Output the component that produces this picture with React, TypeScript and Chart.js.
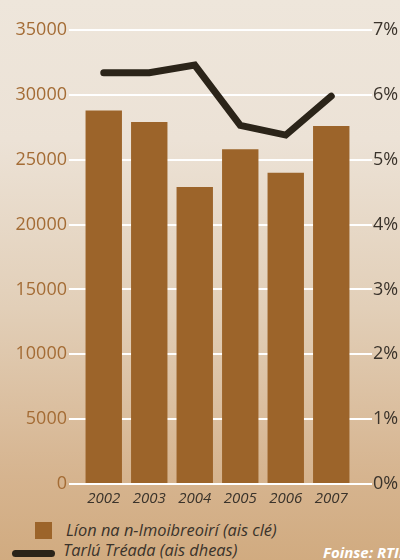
import React, { useEffect, useRef } from "react";
import { Chart, registerables } from "chart.js";

Chart.register(...registerables);

const years = ["2002", "2003", "2004", "2005", "2006", "2007"];
const workers = [28800, 27900, 22900, 25800, 24000, 27600];
const herdIncidence = [6.34, 6.34, 6.46, 5.53, 5.38, 5.98];
const leftTicks = [0, 5000, 10000, 15000, 20000, 25000, 30000, 35000];
const rightTicks = [0, 1, 2, 3, 4, 5, 6, 7];
const barLabel = "Líon na n-Imoibreoirí (ais clé)";
const lineLabel = "Tarlú Tréada (ais dheas)";
const sourceLabel = "Foinse: RTIB";

const BAR = "#9c642a";
const LINE = "#2b2419";
const LEFT_TXT = "#a46c35";
const DARK_TXT = "#3a332b";
const FONT = "'Open Sans', 'Noto Sans', sans-serif";

export default function App() {
  const ref = useRef<HTMLCanvasElement | null>(null);

  useEffect(() => {
    if (!ref.current) return;
    const chart = new Chart(ref.current, {
      data: {
        labels: years,
        datasets: [
          {
            type: "line",
            label: lineLabel,
            data: herdIncidence,
            yAxisID: "yR",
            borderColor: LINE,
            borderWidth: 7,
            borderCapStyle: "round",
            borderJoinStyle: "miter",
            pointRadius: 0,
            tension: 0,
            order: 0,
          },
          {
            type: "bar",
            label: barLabel,
            data: workers,
            yAxisID: "yL",
            backgroundColor: BAR,
            borderWidth: 0,
            categoryPercentage: 1,
            barPercentage: 0.8,
            order: 1,
          },
        ],
      },
      options: {
        responsive: false,
        maintainAspectRatio: false,
        animation: false,
        layout: { padding: { top: 30, left: 0, right: 0, bottom: 0 } },
        plugins: { legend: { display: false }, tooltip: { enabled: false } },
        scales: {
          x: {
            grid: { display: false, drawTicks: false },
            border: { display: false },
            ticks: {
              color: DARK_TXT,
              padding: 6,
              font: { family: FONT, size: 15, style: "italic" },
              maxRotation: 0,
            },
            afterFit: (s: any) => {
              s.height = 26;
            },
          },
          yL: {
            type: "linear",
            position: "left",
            min: 0,
            max: 35000,
            afterBuildTicks: (s: any) => {
              s.ticks = leftTicks.map((v) => ({ value: v }));
            },
            grid: { color: "#ffffff", lineWidth: 2, tickLength: 12, drawTicks: true },
            border: { display: false },
            ticks: {
              color: LEFT_TXT,
              padding: 2,
              font: { family: FONT, size: 18 },
              callback: (v: any) => String(v),
            },
            afterFit: (s: any) => {
              s.width = 81;
            },
          },
          yR: {
            type: "linear",
            position: "right",
            min: 0,
            max: 7,
            afterBuildTicks: (s: any) => {
              s.ticks = rightTicks.map((v) => ({ value: v }));
            },
            grid: {
              color: "#ffffff",
              lineWidth: 2,
              tickLength: 18,
              drawTicks: true,
              drawOnChartArea: false,
            },
            border: { display: false },
            ticks: {
              color: DARK_TXT,
              padding: 1,
              font: { family: FONT, size: 18 },
              callback: (v: any) => v + "%",
            },
            afterFit: (s: any) => {
              s.width = 46;
            },
          },
        },
      },
    } as any);
    return () => chart.destroy();
  }, []);

  return (
    <div
      style={{
        position: "fixed",
        left: 0,
        top: 0,
        width: 400,
        height: 560,
        overflow: "hidden",
        background:
          "linear-gradient(to bottom, #eee6db 0%, #ece2d6 25%, #e2cfb8 55%, #d6b48f 85%, #d1ab80 100%)",
        fontFamily: FONT,
      }}
    >
      <canvas
        ref={ref}
        width={400}
        height={510}
        style={{ position: "absolute", left: 0, top: 0, width: 400, height: 510 }}
      />
      <div
        style={{
          position: "absolute",
          left: 35,
          top: 522,
          width: 17,
          height: 17,
          background: BAR,
        }}
      />
      <div
        style={{
          position: "absolute",
          left: 66,
          top: 519,
          fontSize: 16.4,
          lineHeight: "22px",
          fontStyle: "italic",
          color: DARK_TXT,
          whiteSpace: "nowrap",
        }}
      >
        {barLabel}
      </div>
      <div
        style={{
          position: "absolute",
          left: 12,
          top: 550,
          width: 43,
          height: 7,
          borderRadius: 4,
          background: LINE,
        }}
      />
      <div
        style={{
          position: "absolute",
          left: 63,
          top: 539,
          fontSize: 16.4,
          lineHeight: "22px",
          fontStyle: "italic",
          color: DARK_TXT,
          whiteSpace: "nowrap",
        }}
      >
        {lineLabel}
      </div>
      <div
        style={{
          position: "absolute",
          left: 323,
          top: 541,
          fontSize: 15,
          lineHeight: "22px",
          fontStyle: "italic",
          fontWeight: 700,
          color: "#ffffff",
          whiteSpace: "nowrap",
        }}
      >
        {sourceLabel}
      </div>
    </div>
  );
}
